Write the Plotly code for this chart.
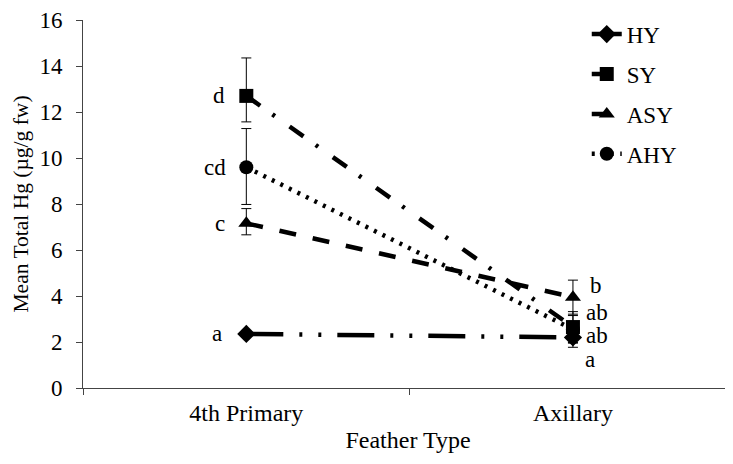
import plotly.graph_objects as go

categories = ["4th Primary", "Axillary"]
series_names = ["HY", "SY", "ASY", "AHY"]
hy = [2.35, 2.2]
sy = [12.7, 2.65]
asy = [7.16, 3.95]
ahy = [9.6, 2.55]
hy_err_plus = [0.1, 0.3]
hy_err_minus = [0.1, 0.43]
sy_err_plus = [1.65, 0.67]
sy_err_minus = [1.13, 0.67]
asy_err_plus = [0.64, 0.74]
asy_err_minus = [0.5, 0.74]
ahy_err_plus = [1.68, 0.6]
ahy_err_minus = [1.62, 0.6]
letters_hy = ["a", "a"]
letters_sy = ["d", "ab"]
letters_asy = ["c", "b"]
letters_ahy = ["cd", "ab"]

FONT = "Liberation Serif"
FS = 23

styles = {
    "HY": dict(symbol="diamond", dash="37px,16px,3px,16px,3px,16px"),
    "SY": dict(symbol="square", dash="17px,15px,3px,18px"),
    "ASY": dict(symbol="triangle-up", dash="17px,17px"),
    "AHY": dict(symbol="circle", dash="3px,6.5px"),
}
values = {"HY": hy, "SY": sy, "ASY": asy, "AHY": ahy}
eplus = {"HY": hy_err_plus, "SY": sy_err_plus, "ASY": asy_err_plus, "AHY": ahy_err_plus}
eminus = {"HY": hy_err_minus, "SY": sy_err_minus, "ASY": asy_err_minus, "AHY": ahy_err_minus}
letters = {"HY": letters_hy, "SY": letters_sy, "ASY": letters_asy, "AHY": letters_ahy}

fig = go.Figure()
for name in series_names:
    st = styles[name]
    fig.add_trace(go.Scatter(
        x=categories, y=values[name], name=name, mode="lines+markers",
        legendgroup=name,
        line=dict(color="black", width=4.5, dash=st["dash"]),
        marker=dict(symbol=st["symbol"], size=14, color="black"),
        error_y=dict(type="data", symmetric=False, array=eplus[name],
                     arrayminus=eminus[name], color="black", thickness=1, width=5),
    ))

# letter labels: left side (4th Primary) and right side (Axillary)
left_shift = {"HY": (-29, 0), "SY": (-27, 0), "ASY": (-26, 0), "AHY": (-31, 0)}
right_shift = {"HY": (17, -22), "SY": (24, 15), "ASY": (23, 12), "AHY": (24, -6)}
for name in series_names:
    for j, cat in enumerate(categories):
        sx, sy_ = (left_shift if j == 0 else right_shift)[name]
        fig.add_annotation(x=cat, y=values[name][j], text=letters[name][j],
                           showarrow=False, xshift=sx, yshift=sy_,
                           font=dict(family=FONT, size=FS, color="black"))

fig.update_layout(
    width=725, height=456,
    margin=dict(l=75, r=0, t=12, b=76),
    paper_bgcolor="white", plot_bgcolor="white",
    font=dict(family=FONT, size=FS, color="black"),
    showlegend=True,
    legend=dict(x=0.775, y=1.02, xanchor="left", yanchor="top",
                bgcolor="rgba(0,0,0,0)", traceorder="grouped",
                tracegroupgap=7, font=dict(family=FONT, size=FS)),
    xaxis=dict(type="category", range=[-0.5, 1.49], showline=True, automargin=False,
               linecolor="#444", linewidth=1, ticks="outside", tickson="boundaries",
               ticklen=6, tickcolor="#444", showgrid=False, zeroline=False,
               ticklabelstandoff=3, ticklabeloverflow="allow",
               tickfont=dict(family=FONT, size=24),
               title=dict(text="Feather Type", standoff=6,
                          font=dict(family=FONT, size=24))),
    yaxis=dict(range=[0, 16], dtick=2, showline=True, linecolor="#444", linewidth=1,
               automargin=False, ticks="outside", ticklen=6, tickcolor="#444",
               showgrid=False, zeroline=False, ticklabelstandoff=9,
               ticklabeloverflow="allow",
               tickfont=dict(family=FONT, size=23),
               title=dict(text="Mean Total Hg (µg/g fw)", standoff=4,
                          font=dict(family=FONT, size=21.5))),
)

fig.write_html("out.html")
